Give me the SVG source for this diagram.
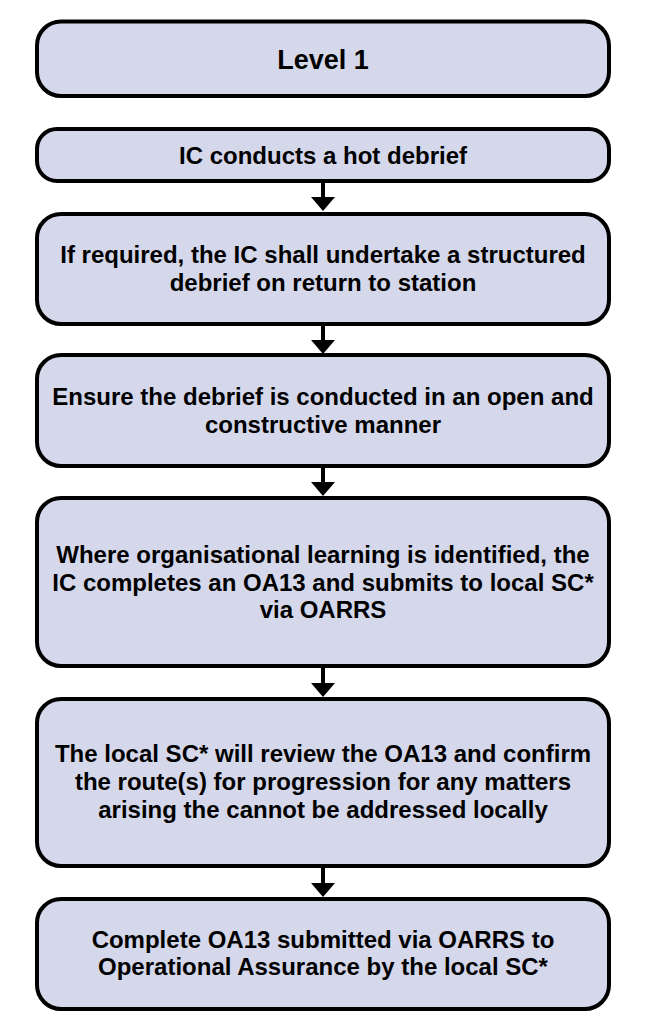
<svg xmlns="http://www.w3.org/2000/svg" width="668" height="1030" viewBox="0 0 668 1030">
<defs>
<style>
.box{fill:#d5d7ea;stroke:#000;stroke-width:4}
.t{font-family:"Liberation Sans",Arial,sans-serif;font-weight:bold;font-size:24px;fill:#000;text-anchor:middle}
.title{font-size:27px}
.con{stroke:#000;stroke-width:4;fill:none}
.head{fill:#000}
</style>
</defs>
<rect width="668" height="1030" fill="#fff"/>
<g id="n1"><rect class="box" x="37" y="21.5" width="572" height="74.5" rx="24"/><text class="t title" x="323" y="69">Level 1</text></g>
<g id="n2"><rect class="box" x="37" y="129" width="572" height="52" rx="20"/><text class="t" x="323" y="164">IC conducts a hot debrief</text></g>
<g id="n3"><rect class="box" x="37" y="214" width="572" height="110" rx="24"/><text class="t" x="323" y="263">If required, the IC shall undertake a structured</text><text class="t" x="323" y="291">debrief on return to station</text></g>
<g id="n4"><rect class="box" x="37" y="355" width="572" height="111" rx="24"/><text class="t" x="323" y="405">Ensure the debrief is conducted in an open and</text><text class="t" x="323" y="433">constructive manner</text></g>
<g id="n5"><rect class="box" x="37" y="498" width="572" height="168" rx="24"/><text class="t" x="323" y="563">Where organisational learning is identified, the</text><text class="t" x="323" y="590.5">IC completes an OA13 and submits to local SC*</text><text class="t" x="323" y="618">via OARRS</text></g>
<g id="n6"><rect class="box" x="37" y="699" width="572" height="167" rx="24"/><text class="t" x="323" y="762">The local SC* will review the OA13 and confirm</text><text class="t" x="323" y="790">the route(s) for progression for any matters</text><text class="t" x="323" y="818">arising the cannot be addressed locally</text></g>
<g id="n7"><rect class="box" x="37" y="899" width="572" height="110" rx="24"/><text class="t" x="323" y="947.5">Complete OA13 submitted via OARRS to</text><text class="t" x="323" y="975">Operational Assurance by the local SC*</text></g>
<g id="connectors">
<line class="con" x1="323" y1="183" x2="323" y2="198"/><polygon class="head" points="311,197 335,197 323,211"/>
<line class="con" x1="323" y1="326" x2="323" y2="341"/><polygon class="head" points="311,340 335,340 323,354"/>
<line class="con" x1="323" y1="468" x2="323" y2="483"/><polygon class="head" points="311,482 335,482 323,496"/>
<line class="con" x1="323" y1="668" x2="323" y2="684"/><polygon class="head" points="311,683 335,683 323,697"/>
<line class="con" x1="323" y1="868" x2="323" y2="884"/><polygon class="head" points="311,883 335,883 323,897"/>
</g>
</svg>
